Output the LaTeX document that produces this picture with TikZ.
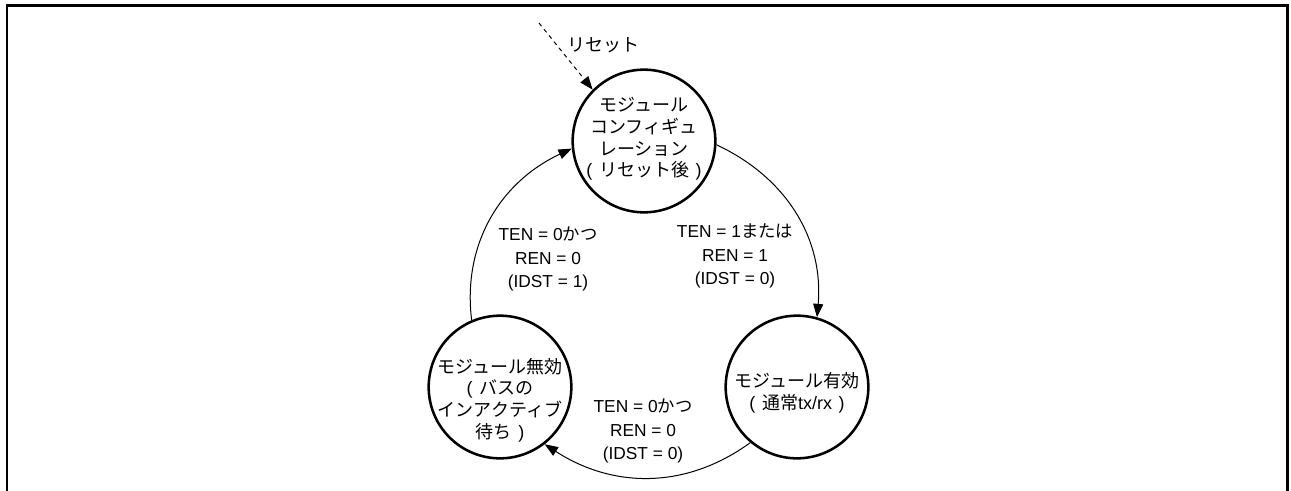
\documentclass[tikz,border=0pt]{standalone}
\usepackage{fontspec}
\setmainfont{Liberation Sans}
\newfontfamily\cjk{Noto Sans CJK JP}
\newcommand{\ja}[1]{{\cjk #1}}
\newcommand{\lp}{{\rmfamily(}\hspace{5pt}}
\newcommand{\rp}{\hspace{5pt}{\rmfamily)}}
\usetikzlibrary{arrows.meta}
\begin{document}
\begin{tikzpicture}[x=0.75pt,y=-0.75pt,
  state/.style={circle,draw,line width=1.9pt,minimum size=107pt,inner sep=0pt},
  statetext/.style={align=center,inner sep=0pt,font=\fontsize{13.5}{16.2}\selectfont\cjk},
  condlabel/.style={align=center,inner sep=0pt,font=\fontsize{13}{17.6}\selectfont},
  arc/.style={line width=0.75pt,-{Triangle[length=10pt,width=7.5pt]}},
  resetarrow/.style={line width=0.75pt,dash pattern=on 3pt off 3pt,-{Triangle[length=10pt,width=7.5pt]}},
  frame/.style={line width=2pt,line join=miter}]
\useasboundingbox (0,0) rectangle (1291,490);
\draw[frame] (7,491) -- (7,5.3) -- (1287.3,5.3) -- (1287.3,491);

\node[state] (cfg) at (644,141) {};
\node[statetext] (cfgtext) at (644,139) {モジュール\\コンフィギュ\\レーション\\\lp リセット後\rp};

\node[state] (dis) at (500,387) {};
\node[statetext] (distext) at (500,400) {モジュール無効\\\lp バスの\\インアクティブ\\待ち\rp};

\node[state] (en) at (797,387) {};
\node[statetext] (entext) at (797,393) {モジュール有効\\\lp 通常{\rmfamily tx/rx}\rp};

\coordinate (resetstart) at (539,23);
\draw[resetarrow] (resetstart) -- (cfg.135);
\node[anchor=west,inner sep=0pt,font=\fontsize{13.5}{16}\selectfont\cjk] (resetlbl) at (567,45) {リセット};

\draw[arc] (cfg.-3) to[out=-25,in=85] (en.74);
\draw[arc] (dis.113) to[out=97,in=205] (cfg.186);
\draw[arc] (en.230) to[out=216,in=-33] (dis.-52);

\node[condlabel] (lblA) at (735,256) {TEN = 1\ja{または}\\REN = 1\\(IDST = 0)};
\node[condlabel] (lblB) at (548,259) {TEN = 0\ja{かつ}\\REN = 0\\(IDST = 1)};
\node[condlabel] (lblC) at (643,431) {TEN = 0\ja{かつ}\\REN = 0\\(IDST = 0)};
\end{tikzpicture}
\end{document}
